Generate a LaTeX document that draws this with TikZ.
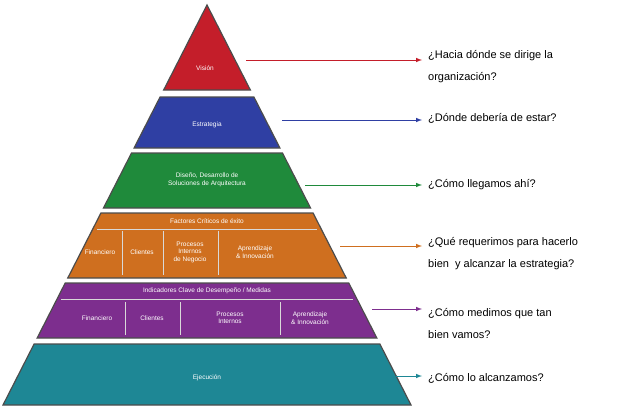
\documentclass[tikz,border=0pt]{standalone}
\usepackage{fontspec}
\setmainfont{Liberation Sans}
\begin{document}
\begin{tikzpicture}[x=1pt,y=-1pt,
  lay/.style={draw=black!70,line width=1.2pt},
  lbl/.style={text=white,font=\fontsize{6.5}{7.5}\selectfont,align=center,inner sep=1pt},
  q/.style={anchor=west,font=\fontsize{11}{22}\selectfont,align=left,inner sep=0pt},
  arr/.style={-latex,line width=1pt},
  sep/.style={white!85!black,line width=0.8pt}]
\useasboundingbox (0,0) rectangle (640,410);
\definecolor{cr}{HTML}{C41E2A}\definecolor{cb}{HTML}{2F3FA3}
\definecolor{cg}{HTML}{1F8A3B}\definecolor{co}{HTML}{CF6F1F}
\definecolor{cp}{HTML}{7D2E8E}\definecolor{ct}{HTML}{1E8795}
\def\L#1{\fpeval{207-0.51*(#1-5)}}\def\R#1{\fpeval{207+0.51*(#1-5)}}
\fill[cr,lay] (207,5) -- (\R{90},90) -- (\L{90},90) -- cycle;
\fill[cb,lay] (\L{97},97) -- (\R{97},97) -- (\R{148},148) -- (\L{148},148) -- cycle;
\fill[cg,lay] (\L{153},153) -- (\R{153},153) -- (\R{208},208) -- (\L{208},208) -- cycle;
\fill[co,lay] (\L{213},213) -- (\R{213},213) -- (\R{278},278) -- (\L{278},278) -- cycle;
\fill[cp,lay] (\L{283},283) -- (\R{283},283) -- (\R{338},338) -- (\L{338},338) -- cycle;
\fill[ct,lay] (\L{344},344) -- (\R{344},344) -- (\R{405},405) -- (\L{405},405) -- cycle;
% orange subdivisions
\draw[sep] (\fpeval{\L{229}+4},229) -- (\fpeval{\R{229}-4},229);
\draw[sep] (122,231) -- (122,275) (163,231) -- (163,275) (218,231) -- (218,275);
% purple subdivisions
\draw[sep] (\fpeval{\L{299}+4},299) -- (\fpeval{\R{299}-4},299);
\draw[sep] (125,302) -- (125,335) (180,302) -- (180,335) (280,302) -- (280,335);
\node[lbl] (vis) at (205,68) {Visión};
\node[lbl] (est) at (207,125) {Estrategia};
\node[lbl] (dis) at (207,180) {Diseño, Desarrollo de\\Soluciones de Arquitectura};
\node[lbl] (fac) at (207,221) {Factores Críticos de éxito};
\node[lbl] at (100,252) {Financiero};
\node[lbl] at (142,252) {Clientes};
\node[lbl] at (190,252) {Procesos\\Internos\\de Negocio};
\node[lbl] at (255,252) {Aprendizaje\\\& Innovación};
\node[lbl] (ind) at (207,291) {Indicadores Clave de Desempeño / Medidas};
\node[lbl] at (97,318) {Financiero};
\node[lbl] at (152,318) {Clientes};
\node[lbl] at (230,318) {Procesos\\Internos};
\node[lbl] at (310,318) {Aprendizaje\\\& Innovación};
\node[lbl] (eje) at (207,378) {Ejecución};
\node[q] (q1) at (428,67) {¿Hacia dónde se dirige la\\organización?};
\node[q] (q2) at (428,118) {¿Dónde debería de estar?};
\node[q] (q3) at (428,185) {¿Cómo llegamos ahí?};
\node[q] (q4) at (428,254) {¿Qué requerimos para hacerlo\\bien\ \ y alcanzar la estrategia?};
\node[q] (q5) at (428,323) {¿Cómo medimos que tan\\bien vamos?};
\node[q] (q6) at (428,378) {¿Cómo lo alcanzamos?};
\coordinate (a1) at (246,60); \coordinate (a2) at (282,120);
\coordinate (a3) at (305,185); \coordinate (a4) at (340,246);
\coordinate (a5) at (372,309); \coordinate (a6) at (396,376);
\draw[arr,cr] (a1) -- ([xshift=-6pt]a1 -| q1.west);
\draw[arr,cb] (a2) -- ([xshift=-6pt]a2 -| q2.west);
\draw[arr,cg] (a3) -- ([xshift=-6pt]a3 -| q3.west);
\draw[arr,co] (a4) -- ([xshift=-6pt]a4 -| q4.west);
\draw[arr,cp] (a5) -- ([xshift=-6pt]a5 -| q5.west);
\draw[arr,ct] (a6) -- ([xshift=-6pt]a6 -| q6.west);
\end{tikzpicture}
\end{document}
